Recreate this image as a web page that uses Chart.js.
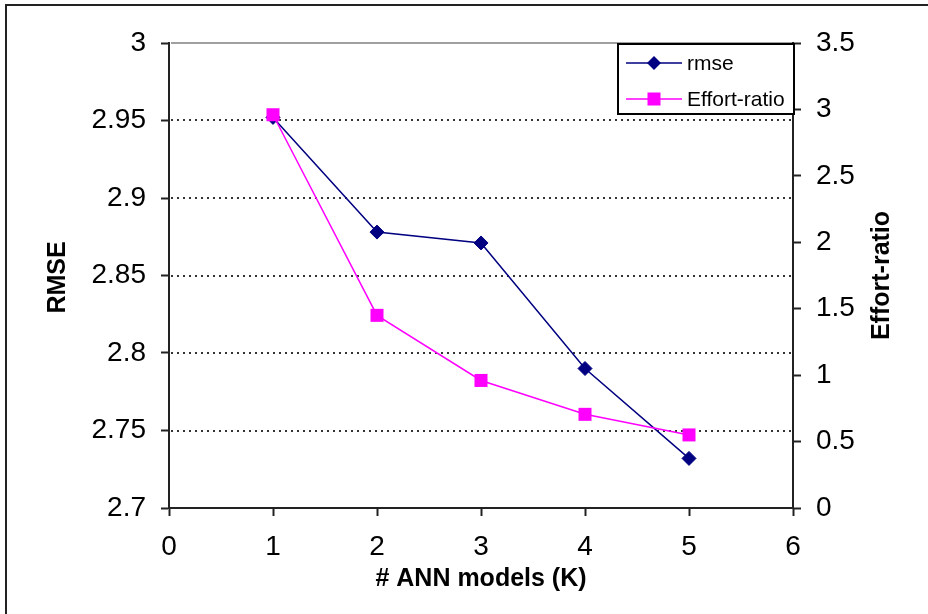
<!DOCTYPE html>
<html>
<head>
<meta charset="utf-8">
<script src="https://cdn.jsdelivr.net/npm/chart.js@4/dist/chart.umd.min.js"></script>
<style>
  body { margin: 0; background: #fff; }
  #wrap { width: 928px; height: 614px; }
</style>
</head>
<body>
<div id="wrap"><canvas id="chart" width="928" height="614"></canvas></div>
<script>
const modelCounts = [1, 2, 3, 4, 5];
const rmseValues = [2.952, 2.878, 2.871, 2.790, 2.732];
const effortValues = [2.96, 1.45, 0.96, 0.705, 0.55];

const xTickLabels = ['0', '1', '2', '3', '4', '5', '6'];
const rmseTickLabels = ['2.7', '2.75', '2.8', '2.85', '2.9', '2.95', '3'];
const effortTickLabels = ['0', '0.5', '1', '1.5', '2', '2.5', '3', '3.5'];

const FONT = "Arial, 'Liberation Sans', sans-serif";
const AXIS_COLOR = '#222';

Chart.defaults.color = '#000';
Chart.defaults.font.family = FONT;

function points(ys) {
    return modelCounts.map((x, i) => ({ x: x, y: ys[i] }));
}

// outer frame of the figure
const framePlugin = {
    id: 'frame',
    afterDraw(chart) {
        const ctx = chart.ctx;
        ctx.save();
        ctx.strokeStyle = AXIS_COLOR;
        ctx.lineWidth = 2;
        ctx.beginPath();
        ctx.moveTo(6, chart.height + 5);
        ctx.lineTo(6, 5);
        ctx.lineTo(chart.width + 5, 5);
        ctx.stroke();
        ctx.restore();
    }
};

// dotted horizontal gridlines on the RMSE axis, grey line along the top
const gridPlugin = {
    id: 'dottedGrid',
    beforeDatasetsDraw(chart) {
        const ctx = chart.ctx;
        const area = chart.chartArea;
        const scale = chart.scales.y;
        const ticks = scale.ticks;
        ctx.save();
        for (let i = 1; i < ticks.length; i++) {
            const y = Math.round(scale.getPixelForValue(ticks[i].value));
            ctx.beginPath();
            if (i === ticks.length - 1) {
                ctx.setLineDash([]);
                ctx.strokeStyle = '#a0a0a0';
            } else {
                ctx.setLineDash([2, 4]);
                ctx.strokeStyle = '#333';
            }
            ctx.lineWidth = 2;
            ctx.moveTo(area.left + 2, y);
            ctx.lineTo(area.right - 1, y);
            ctx.stroke();
        }
        ctx.restore();
    }
};

// axis titles; the right one reads bottom to top like the left one
const titlePlugin = {
    id: 'axisTitles',
    afterDraw(chart) {
        const ctx = chart.ctx;
        const area = chart.chartArea;
        const midY = (area.top + area.bottom) / 2;
        ctx.save();
        ctx.fillStyle = '#000';
        ctx.font = 'bold 25px ' + FONT;
        ctx.textAlign = 'center';
        ctx.textBaseline = 'middle';

        ctx.fillText('# ANN models (K)', (area.left + area.right) / 2, area.bottom + 71);

        ctx.save();
        ctx.translate(58, midY + 2);
        ctx.rotate(-Math.PI / 2);
        ctx.fillText('RMSE', 0, 0);
        ctx.restore();

        ctx.save();
        ctx.translate(area.right + 89, midY);
        ctx.rotate(-Math.PI / 2);
        ctx.fillText('Effort-ratio', 0, 0);
        ctx.restore();
        ctx.restore();
    }
};

// boxed legend in the top right corner of the plot
const legendPlugin = {
    id: 'boxLegend',
    afterDraw(chart) {
        const ctx = chart.ctx;
        const area = chart.chartArea;
        const w = 176, h = 70;
        const left = area.right - w + 1;
        const top = area.top + 1;
        ctx.save();
        ctx.fillStyle = '#fff';
        ctx.fillRect(left, top, w, h);
        ctx.strokeStyle = '#000';
        ctx.lineWidth = 2;
        ctx.strokeRect(left, top, w, h);

        chart.data.datasets.forEach((ds, i) => {
            const y = top + 19 + i * 36;
            const mx = left + 36;
            ctx.strokeStyle = ds.borderColor;
            ctx.lineWidth = 1.5;
            ctx.beginPath();
            ctx.moveTo(left + 8, y);
            ctx.lineTo(left + 64, y);
            ctx.stroke();

            ctx.fillStyle = ds.backgroundColor;
            ctx.beginPath();
            if (ds.pointStyle === 'rectRot') {
                const r = ds.pointRadius;
                ctx.moveTo(mx - r, y);
                ctx.lineTo(mx, y - r);
                ctx.lineTo(mx + r, y);
                ctx.lineTo(mx, y + r);
                ctx.closePath();
            } else {
                const s = ds.pointRadius * Math.SQRT1_2;
                ctx.rect(mx - s, y - s, 2 * s, 2 * s);
            }
            ctx.fill();

            ctx.fillStyle = '#000';
            ctx.font = '21px ' + FONT;
            ctx.textAlign = 'left';
            ctx.textBaseline = 'middle';
            ctx.fillText(ds.label, left + 69, y + 1);
        });
        ctx.restore();
    }
};

new Chart('chart', {
    type: 'line',
    data: {
        datasets: [{
            label: 'rmse',
            data: points(rmseValues),
            yAxisID: 'y',
            borderColor: '#000080',
            backgroundColor: '#000080',
            borderWidth: 1.5,
            pointStyle: 'rectRot',
            pointRadius: 7,
            pointBorderWidth: 1,
            order: 1
        }, {
            label: 'Effort-ratio',
            data: points(effortValues),
            yAxisID: 'y1',
            borderColor: '#ff00ff',
            backgroundColor: '#ff00ff',
            borderWidth: 1.5,
            pointStyle: 'rect',
            pointRadius: 9.2,
            pointBorderWidth: 0,
            order: 0
        }]
    },
    options: {
        responsive: false,
        animation: false,
        layout: { padding: { top: 43, left: 0, right: 0, bottom: 0 } },
        plugins: {
            legend: { display: false },
            tooltip: { enabled: false }
        },
        scales: {
            x: {
                type: 'linear',
                min: 0,
                max: 6,
                afterFit: (scale) => { scale.height = 106; },
                border: { color: AXIS_COLOR, width: 2 },
                grid: { drawOnChartArea: false, tickLength: 8, tickColor: AXIS_COLOR, tickWidth: 2 },
                ticks: {
                    stepSize: 1,
                    autoSkip: false,
                    maxRotation: 0,
                    padding: 14,
                    font: { size: 28 },
                    callback: (v, i) => xTickLabels[i]
                }
            },
            y: {
                position: 'left',
                min: 2.7,
                max: 3,
                afterFit: (scale) => { scale.width = 169; },
                border: { color: AXIS_COLOR, width: 2 },
                grid: { drawOnChartArea: false, tickLength: 8, tickColor: AXIS_COLOR, tickWidth: 2 },
                ticks: {
                    stepSize: 0.05,
                    padding: 15,
                    font: { size: 28 },
                    callback: (v, i) => rmseTickLabels[i]
                }
            },
            y1: {
                position: 'right',
                min: 0,
                max: 3.5,
                afterFit: (scale) => { scale.width = 135; },
                border: { color: AXIS_COLOR, width: 2 },
                grid: { drawOnChartArea: false, tickLength: 8, tickColor: AXIS_COLOR, tickWidth: 2 },
                ticks: {
                    stepSize: 0.5,
                    padding: 15,
                    font: { size: 28 },
                    callback: (v, i) => effortTickLabels[i]
                }
            }
        }
    },
    plugins: [gridPlugin, titlePlugin, legendPlugin, framePlugin]
});
</script>
</body>
</html>
